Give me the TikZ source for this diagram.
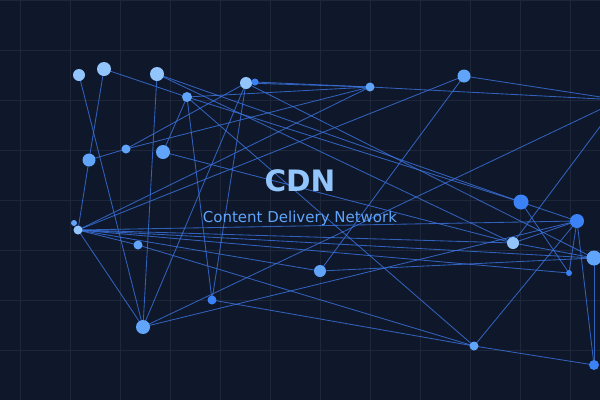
\documentclass[tikz,border=0pt]{standalone}
\usepackage{fontspec}
\setmainfont{DejaVu Sans}
\begin{document}
\begin{tikzpicture}[x=1pt,y=-1pt,
  edge/.style={draw=edgeblue,line width=0.85pt,opacity=0.8},
  dotlight/.style={circle,fill=lightblue,inner sep=0pt,draw=none},
  dotmid/.style={circle,fill=midblue,inner sep=0pt,draw=none},
  dotdark/.style={circle,fill=darkblue,inner sep=0pt,draw=none},
  gridline/.style={draw=gridcol,line width=0.8pt}]
\definecolor{bgcol}{HTML}{0F172A}
\definecolor{gridcol}{HTML}{1D2739}
\definecolor{edgeblue}{HTML}{3B74E0}
\definecolor{lightblue}{HTML}{93C5FD}
\definecolor{midblue}{HTML}{60A5FA}
\definecolor{darkblue}{HTML}{3B82F6}
\useasboundingbox (0,0) rectangle (600,400);
\fill[bgcol] (0,0) rectangle (600,400);
\clip (0,0) rectangle (600,400);
\foreach \gx in {20,70,...,570} \draw[gridline] (\gx,0) -- (\gx,400);
\foreach \gy in {0,50,...,350} \draw[gridline] (0,\gy) -- (600,\gy);
% positions
\coordinate (A) at (79,75);
\coordinate (B) at (104,69);
\coordinate (C) at (157,74);
\coordinate (D) at (187,97);
\coordinate (E) at (246,83);
\coordinate (F) at (255,82);
\coordinate (G) at (370,87);
\coordinate (H) at (464,76);
\coordinate (I) at (89,160);
\coordinate (J) at (126,149);
\coordinate (K) at (163,152);
\coordinate (L) at (74,223);
\coordinate (M) at (78,230);
\coordinate (N) at (138,245);
\coordinate (O) at (143,327);
\coordinate (P) at (212,300);
\coordinate (Q) at (320,271);
\coordinate (R) at (521,202);
\coordinate (S) at (577,221);
\coordinate (T) at (513,243);
\coordinate (U) at (594,258);
\coordinate (V) at (569,273);
\coordinate (W) at (474,346);
\coordinate (X) at (594,365);
\coordinate (Y) at (620,100);
% edges
\foreach \a/\b in {A/O,B/I,B/D,C/O,C/R,C/T,D/K,D/P,D/W,D/R,D/G,E/J,E/O,E/P,E/U,E/G,F/G,G/Y,H/Y,G/M,H/M,H/Q,I/J,I/M,J/G,K/T,M/O,M/N,M/Q,M/S,M/T,M/U,M/V,N/W,O/Y,O/S,P/W,Q/U,R/S,R/V,T/S,T/U,S/W,S/X,U/X,W/X,Y/T,S/V}
  \draw[edge] (\a) -- (\b);
% nodes
\node[dotlight,minimum size=12pt] (nA) at (A) {};
\node[dotlight,minimum size=14pt] (nB) at (B) {};
\node[dotlight,minimum size=14pt] (nC) at (C) {};
\node[dotmid,minimum size=10pt] (nD) at (D) {};
\node[dotlight,minimum size=12pt] (nE) at (E) {};
\node[dotdark,minimum size=7pt] (nF) at (F) {};
\node[dotmid,minimum size=9pt] (nG) at (G) {};
\node[dotmid,minimum size=13pt] (nH) at (H) {};
\node[dotmid,minimum size=13pt] (nI) at (I) {};
\node[dotmid,minimum size=9pt] (nJ) at (J) {};
\node[dotmid,minimum size=14pt] (nK) at (K) {};
\node[dotmid,minimum size=6pt] (nL) at (L) {};
\node[dotlight,minimum size=9pt] (nM) at (M) {};
\node[dotmid,minimum size=9pt] (nN) at (N) {};
\node[dotmid,minimum size=14pt] (nO) at (O) {};
\node[dotdark,minimum size=9pt] (nP) at (P) {};
\node[dotmid,minimum size=12pt] (nQ) at (Q) {};
\node[dotdark,minimum size=15pt] (nR) at (R) {};
\node[dotdark,minimum size=14pt] (nS) at (S) {};
\node[dotlight,minimum size=12pt] (nT) at (T) {};
\node[dotmid,minimum size=15pt] (nU) at (U) {};
\node[dotdark,minimum size=6pt] (nV) at (V) {};
\node[dotmid,minimum size=9pt] (nW) at (W) {};
\node[dotdark,minimum size=10pt] (nX) at (X) {};
% titles
\node[text=lightblue,font=\fontsize{29.5}{31}\selectfont\bfseries] (title) at (300,181) {CDN};
\node[text=midblue,font=\fontsize{15}{17}\selectfont] (subtitle) at (300,218.5) {Content Delivery Network};
\end{tikzpicture}
\end{document}
